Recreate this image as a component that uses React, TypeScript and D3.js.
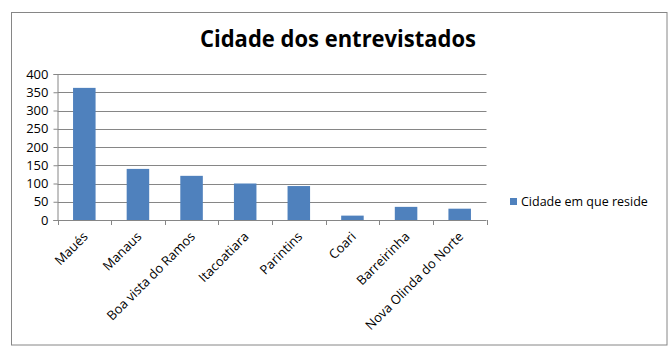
import { useEffect, useRef } from 'react';
import * as d3 from 'd3';

const categories = ['Maués', 'Manaus', 'Boa vista do Ramos', 'Itacoatiara', 'Parintins', 'Coari', 'Barreirinha', 'Nova Olinda do Norte'];
const values = [362, 140, 121, 100, 93, 12, 36, 31];
const yTicks = [0, 50, 100, 150, 200, 250, 300, 350, 400];
const seriesName = 'Cidade em que reside';
const title = 'Cidade dos entrevistados';

export default function App() {
  const svgRef = useRef<SVGSVGElement>(null);

  useEffect(() => {
    document.body.style.margin = '0';
    const svg = d3.select(svgRef.current);
    svg.selectAll('*').remove();

    const W = 671, H = 353;
    const left = 57.5, right = 486.5, top = 74, bottom = 220;
    const font = 'Open Sans, sans-serif';

    // chart border
    svg.append('rect')
      .attr('x', 11.5).attr('y', 12.5)
      .attr('width', 655.5).attr('height', 332.5)
      .attr('fill', 'white')
      .attr('stroke', '#868686');

    svg.append('text')
      .attr('x', 338).attr('y', 47)
      .attr('text-anchor', 'middle')
      .attr('textLength', 276)
      .attr('lengthAdjust', 'spacingAndGlyphs')
      .style('font-family', font)
      .style('font-weight', 'bold')
      .style('font-size', '23px')
      .text(title);

    const x = d3.scaleBand().domain(categories).range([left, right]).paddingInner(0.58).paddingOuter(0.29);
    const y = d3.scaleLinear().domain([0, 400]).range([bottom, top]);

    // gridlines
    svg.append('g')
      .selectAll('line')
      .data(yTicks.filter(t => t > 0))
      .enter()
      .append('line')
      .attr('x1', left).attr('x2', right)
      .attr('y1', d => Math.round(y(d)) + 0.5).attr('y2', d => Math.round(y(d)) + 0.5)
      .attr('stroke', '#868686');

    // bars
    svg.append('g')
      .selectAll('rect')
      .data(values)
      .enter()
      .append('rect')
      .attr('x', (d, i) => x(categories[i]))
      .attr('width', x.bandwidth())
      .attr('y', d => y(d))
      .attr('height', d => bottom - y(d))
      .attr('fill', '#4f81bd');

    // y axis
    const yAxis = svg.append('g')
      .attr('transform', `translate(${left},0)`)
      .call(d3.axisLeft(y).tickValues(yTicks).tickSize(4).tickPadding(5));
    yAxis.selectAll('line,path').attr('stroke', '#868686');
    yAxis.selectAll('text')
      .style('font-family', font)
      .style('font-size', '13px')
      .attr('fill', '#000');

    // x axis with category ticks at band boundaries
    const xg = svg.append('g');
    xg.append('line')
      .attr('x1', left - 4).attr('x2', right)
      .attr('y1', bottom + 0.5).attr('y2', bottom + 0.5)
      .attr('stroke', '#868686');
    const step = x.step();
    xg.selectAll('.tk')
      .data(d3.range(categories.length + 1))
      .enter()
      .append('line')
      .attr('x1', i => Math.round(left + i * step) + 0.5)
      .attr('x2', i => Math.round(left + i * step) + 0.5)
      .attr('y1', bottom).attr('y2', bottom + 5)
      .attr('stroke', '#868686');
    xg.selectAll('text')
      .data(categories)
      .enter()
      .append('text')
      .attr('transform', d => `translate(${(x(d) as number) + x.bandwidth() / 2 - 2},${bottom + 11}) rotate(-45)`)
      .attr('text-anchor', 'end')
      .attr('dy', '0.7em')
      .style('font-family', font)
      .style('font-size', '13px')
      .text(d => d);

    // legend
    const lg = svg.append('g').attr('transform', 'translate(510,198)');
    lg.append('rect').attr('width', 7).attr('height', 7).attr('fill', '#4f81bd');
    lg.append('text')
      .attr('x', 11).attr('y', 4).attr('dy', '0.35em')
      .style('font-family', font)
      .style('font-size', '12.5px')
      .text(seriesName);

    svg.attr('width', W).attr('height', H);
  }, []);

  return <svg ref={svgRef} width={671} height={353} style={{ display: 'block' }} />;
}
